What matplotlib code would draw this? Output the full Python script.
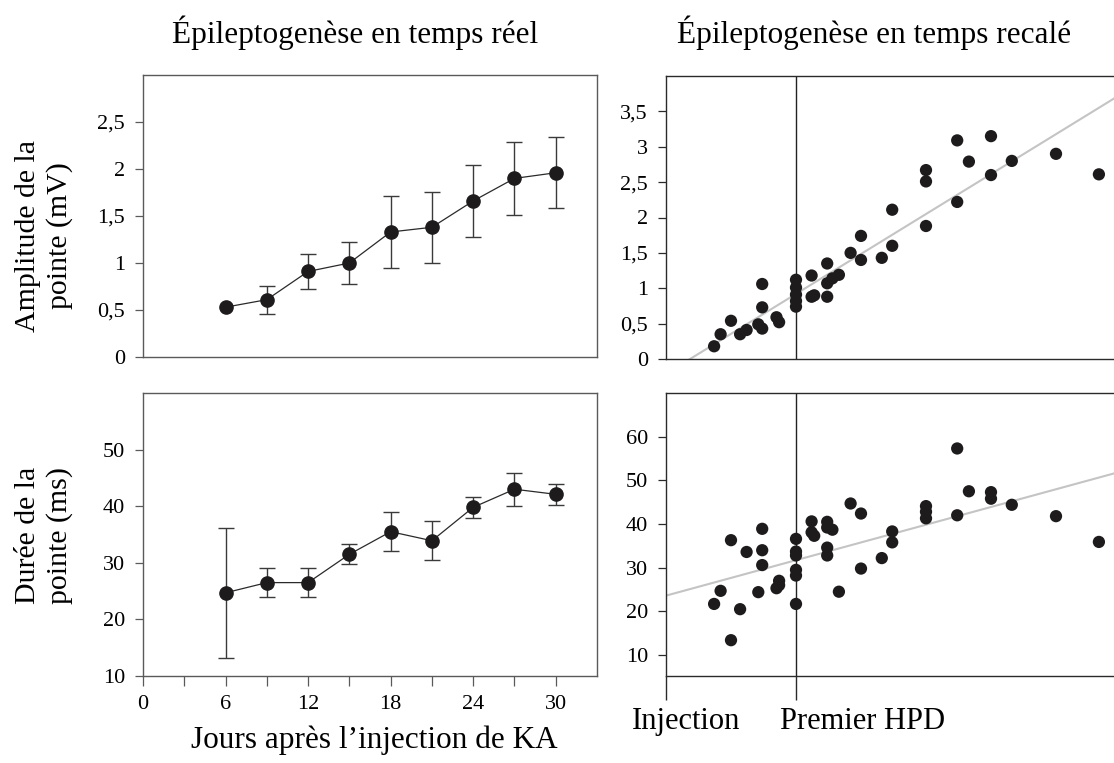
import matplotlib
matplotlib.use('Agg')
import matplotlib.pyplot as plt
import matplotlib.transforms as mtransforms
import numpy as np

plt.rcParams['font.family'] = ['Liberation Serif', 'DejaVu Serif']

# --- left panels: real time (days after KA injection) ---
days = [6, 9, 12, 15, 18, 21, 24, 27, 30]
amp_mean = [0.53, 0.61, 0.91, 1.00, 1.33, 1.38, 1.66, 1.90, 1.96]
amp_err = [0.0, 0.15, 0.19, 0.22, 0.38, 0.38, 0.38, 0.39, 0.38]
dur_mean = [24.7, 26.5, 26.5, 31.5, 35.5, 33.9, 39.8, 43.0, 42.1]
dur_err = [11.5, 2.5, 2.6, 1.8, 3.4, 3.4, 1.8, 2.9, 1.8]

day_ticks = [0, 3, 6, 9, 12, 15, 18, 21, 24, 27, 30]
day_labels = ['0', '', '6', '', '12', '', '18', '', '24', '', '30']
amp_ticks = [0, 0.5, 1, 1.5, 2, 2.5]
amp_labels = ['0', '0,5', '1', '1,5', '2', '2,5']
dur_ticks = [10, 20, 30, 40, 50]
dur_labels = ['10', '20', '30', '40', '50']

# --- right panels: rescaled time (0 = injection, 1 = first HPD) ---
amp_t = [0.37, 0.42, 0.50, 0.57, 0.62, 0.71, 0.74, 0.74, 0.74, 0.85, 0.87,
         1.0, 1.0, 1.0, 1.0, 1.0, 1.12, 1.12, 1.14, 1.24, 1.24, 1.24, 1.28,
         1.33, 1.42, 1.50, 1.50, 1.66, 1.74, 1.74, 2.0, 2.0, 2.0, 2.24, 2.24,
         2.33, 2.50, 2.50, 2.66, 3.0, 3.33]
amp_val = [0.18, 0.35, 0.54, 0.35, 0.41, 0.49, 0.43, 0.73, 1.06, 0.59, 0.52,
           1.12, 1.01, 0.91, 0.82, 0.74, 1.18, 0.88, 0.90, 1.35, 1.07, 0.88,
           1.14, 1.19, 1.50, 1.74, 1.40, 1.43, 2.11, 1.60, 2.67, 2.51, 1.88,
           3.09, 2.22, 2.79, 3.15, 2.60, 2.80, 2.90, 2.61]
dur_t = [0.37, 0.42, 0.50, 0.50, 0.57, 0.62, 0.71, 0.74, 0.74, 0.74, 0.85,
         0.87, 0.87, 1.0, 1.0, 1.0, 1.0, 1.0, 1.0, 1.12, 1.12, 1.14, 1.24,
         1.24, 1.28, 1.24, 1.24, 1.33, 1.42, 1.50, 1.50, 1.66, 1.74, 1.74,
         2.0, 2.0, 2.0, 2.24, 2.24, 2.33, 2.50, 2.50, 2.66, 3.0, 3.33]
dur_val = [21.7, 24.7, 36.3, 13.4, 20.5, 33.6, 24.4, 38.9, 34.0, 30.6, 25.3,
           27.0, 26.0, 36.6, 33.7, 32.8, 29.5, 28.2, 21.7, 40.6, 38.1, 37.3,
           40.5, 39.2, 38.7, 34.6, 32.8, 24.5, 44.7, 42.4, 29.8, 32.2, 38.3,
           35.8, 44.1, 42.8, 41.3, 57.3, 42.0, 47.5, 47.3, 45.8, 44.4, 41.8,
           35.9]
amp_fit = (-0.209, 1.129)   # intercept, slope
dur_fit = (23.6, 8.12)

amp_ticks_r = [0, 0.5, 1, 1.5, 2, 2.5, 3, 3.5]
amp_labels_r = ['0', '0,5', '1', '1,5', '2', '2,5', '3', '3,5']
dur_ticks_r = [10, 20, 30, 40, 50, 60]
dur_labels_r = ['10', '20', '30', '40', '50', '60']
event_t = [0, 1]
event_labels = ['Injection', 'Premier HPD']

W, H = 1114, 763
fig = plt.figure(figsize=(W / 100, H / 100), dpi=100)

def box(l, t, r, b):
    return [l / W, 1 - b / H, (r - l) / W, (b - t) / H]

ax1 = fig.add_axes(box(143, 75, 597, 357))
ax2 = fig.add_axes(box(143, 393, 597, 676))
ax3 = fig.add_axes(box(666, 76, 1118, 359))
ax4 = fig.add_axes(box(666, 393, 1118, 676))

dot = '#1e1b1c'
tick_fs = 16

for ax, mean, err in [(ax1, amp_mean, amp_err), (ax2, dur_mean, dur_err)]:
    d = np.array(days)
    e = np.array(err)
    m = np.array(mean)
    ok = e > 0
    ax.errorbar(d[ok], m[ok], yerr=e[ok], fmt='none', ecolor='#3a3a3a',
                elinewidth=1.0, capsize=6, capthick=1.0, zorder=2)
    ax.plot(d, m, '-', color='#2a2a2a', lw=0.9, zorder=3)
    ax.plot(d, m, 'o', color=dot, ms=9.5, zorder=4)
    ax.set_xlim(0, 33)
    for s in ax.spines.values():
        s.set_color('#5a5a5a')
        s.set_linewidth(1.0)
    ax.tick_params(axis='y', direction='out', length=6, width=0.9,
                   color='#5a5a5a', labelsize=tick_fs, pad=7)

ax1.set_ylim(0, 3)
ax1.set_yticks(amp_ticks)
ax1.set_yticklabels(amp_labels)
ax1.set_xticks([])

ax2.set_ylim(10, 60)
ax2.set_yticks(dur_ticks)
ax2.set_yticklabels(dur_labels)
ax2.set_xticks(day_ticks)
ax2.set_xticklabels(day_labels)
ax2.tick_params(axis='x', direction='out', length=7, width=0.9,
                color='#5a5a5a', labelsize=tick_fs, pad=7)

xr = np.array([0, 3.5])
for ax, t, v, fit in [(ax3, amp_t, amp_val, amp_fit), (ax4, dur_t, dur_val, dur_fit)]:
    ax.plot(xr, fit[0] + fit[1] * xr, color='#c4c4c4', lw=1.5, zorder=1)
    ax.scatter(t, v, s=78, color=dot, edgecolors='none', zorder=3)
    ax.axvline(event_t[1], color='#222222', lw=1.0, zorder=2)
    ax.set_xlim(0, (1118 - 666) / 130)
    ax.spines['right'].set_visible(False)
    for k in ['left', 'top', 'bottom']:
        ax.spines[k].set_color('#2a2a2a')
        ax.spines[k].set_linewidth(1.0)
    ax.tick_params(axis='y', direction='out', length=6, width=0.9,
                   color='#2a2a2a', labelsize=tick_fs, pad=7)

ax3.set_ylim(0, 4)
ax3.set_yticks(amp_ticks_r)
ax3.set_yticklabels(amp_labels_r)
ax3.set_xticks([])

ax4.set_ylim(5.2, 70)
ax4.set_yticks(dur_ticks_r)
ax4.set_yticklabels(dur_labels_r)
ax4.set_xticks(event_t)
ax4.set_xticklabels([])
ax4.tick_params(axis='x', direction='out', length=17, width=1.0, color='#2a2a2a')
trans = mtransforms.blended_transform_factory(ax4.transData, ax4.transAxes)
for x, lab, dx in zip(event_t, event_labels, [-34, -16]):
    ax4.annotate(lab, xy=(x, 0), xycoords=trans, xytext=(dx * 0.72, -33),
                 textcoords='offset points', ha='left', va='center', fontsize=22)

fig.text(355 / W, 1 - 33 / H, 'Épileptogenèse en temps réel', ha='center', va='center', fontsize=22.5)
fig.text(874 / W, 1 - 33 / H, 'Épileptogenèse en temps recalé', ha='center', va='center', fontsize=22.5)
fig.text(374 / W, 1 - 740 / H, 'Jours après l’injection de KA', ha='center', va='center', fontsize=22.5)
fig.text(44 / W, 1 - 236 / H, 'Amplitude de la\npointe (mV)', rotation=90, ha='center',
         va='center', fontsize=21.5, multialignment='center', linespacing=1.25)
fig.text(44 / W, 1 - 535 / H, 'Durée de la\npointe (ms)', rotation=90, ha='center',
         va='center', fontsize=21.5, multialignment='center', linespacing=1.25)

fig.savefig('out.png', dpi=100)
